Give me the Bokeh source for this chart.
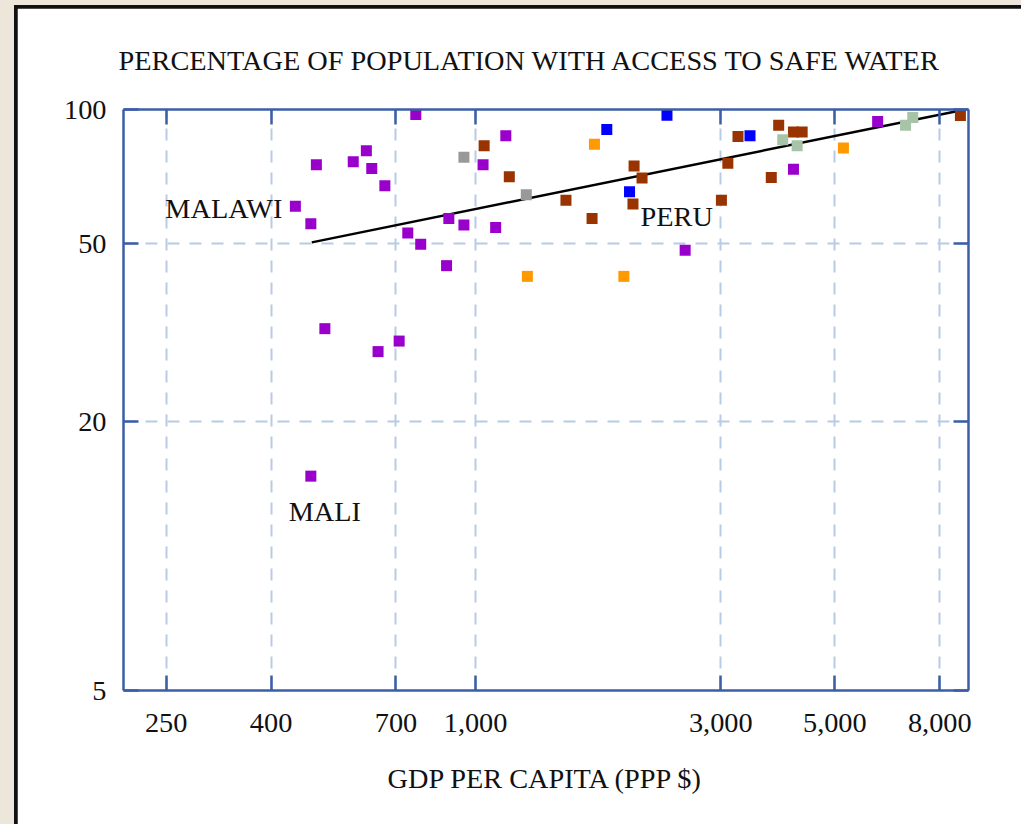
from bokeh.plotting import figure
from bokeh.models import (Range1d, FixedTicker, NumeralTickFormatter, LogAxis, Label,
                          CustomJSTickFormatter, GlobalInlineStyleSheet)
from bokeh.layouts import column
from bokeh.embed import file_html
from bokeh.resources import INLINE

# ---------------- data ----------------
title_text = "PERCENTAGE OF POPULATION WITH ACCESS TO SAFE WATER"
x_label = "GDP PER CAPITA (PPP $)"
x_ticks = [250, 400, 700, 1000, 3000, 5000, 8000]
y_ticks = [5, 20, 50, 100]

purple_gdp = [765, 490, 578, 613, 628, 666, 446, 478, 738, 782, 887, 949, 1094, 1034,
              1145, 2557, 4154, 6057, 878, 509, 710, 646, 478]
purple_water = [97.4, 75.2, 76.4, 80.8, 73.8, 67.5, 60.7, 55.5, 52.9, 49.9, 57.0, 55.1, 54.4, 75.2,
                87.3, 48.4, 73.5, 94.0, 44.7, 32.3, 30.3, 28.7, 15.1]

brown_gdp = [1039, 1163, 1499, 1685, 2034, 2108, 2024, 3008, 3096, 3240, 3888, 4154, 4319, 3761, 8776]
brown_water = [83.0, 70.7, 62.6, 57.0, 74.7, 70.2, 61.4, 62.6, 75.8, 87.0, 92.2, 89.0, 89.0, 70.4, 97.0]

blue_gdp = [1800, 2357, 1993, 3419]
blue_water = [90.2, 97.1, 65.4, 87.3]

orange_gdp = [1703, 1261, 1943, 5196]
orange_water = [83.6, 42.3, 42.3, 82.0]

gray_gdp = [949, 1255]
gray_water = [78.2, 64.4]

sage_gdp = [3959, 4223, 6864, 7089]
sage_water = [85.6, 83.0, 92.2, 95.9]

trend_gdp = [480, 8970]
trend_water = [50.4, 100]

label_names = ["MALAWI", "PERU", "MALI"]
label_gdp = [421, 2094, 509]
label_water = [60.1, 57.5, 12.6]
label_align = ["right", "left", "center"]

# ---------------- styling ----------------
FONT = "Liberation Serif"
FSIZE = "28.3px"
TEXT = "#111111"
AXIS = "#3C5EA6"
GRID = "#B7CCE4"
groups = [
    (purple_gdp, purple_water, "#9900CC"),
    (brown_gdp, brown_water, "#993300"),
    (blue_gdp, blue_water, "#0000FF"),
    (orange_gdp, orange_water, "#FF9900"),
    (gray_gdp, gray_water, "#999999"),
    (sage_gdp, sage_water, "#A8C4A8"),
]

p = figure(x_axis_type="log", y_axis_type="log",
           x_range=Range1d(206.5, 9100), y_range=Range1d(5, 100),
           frame_width=845, frame_height=581,
           min_border_left=106, min_border_top=100, min_border_right=53, min_border_bottom=135,
           output_backend="svg", toolbar_location=None,
           background_fill_color="white", border_fill_color="white")
p.outline_line_color = None

p.title.text = title_text
p.title.text_font = FONT
p.title.text_font_size = FSIZE
p.title.text_font_style = "normal"
p.title.text_color = TEXT
p.title.align = "left"
p.title.offset = -5
p.title.standoff = 68


def style_axis(ax, ticks, show_labels):
    ax.ticker = FixedTicker(ticks=ticks, minor_ticks=[])
    ax.axis_line_color = AXIS
    ax.axis_line_width = 2.5
    ax.major_tick_line_color = AXIS
    ax.major_tick_line_width = 2.5
    ax.major_tick_in = 15
    ax.major_tick_out = 0
    ax.minor_tick_line_color = None
    if show_labels:
        ax.formatter = NumeralTickFormatter(format="0,0")
        ax.major_label_text_font = FONT
        ax.major_label_text_font_size = FSIZE
        ax.major_label_text_color = TEXT
    else:
        ax.formatter = CustomJSTickFormatter(code="return ''")
        ax.major_label_text_font_size = "0px"
        ax.major_label_standoff = 0


xa = p.xaxis[0]
style_axis(xa, x_ticks, True)
xa.major_label_standoff = 23
xa.axis_label = x_label
xa.axis_label_text_font = FONT
xa.axis_label_text_font_size = FSIZE
xa.axis_label_text_font_style = "normal"
xa.axis_label_text_color = TEXT
xa.axis_label_standoff = 28

ya = p.yaxis[0]
style_axis(ya, y_ticks, True)
ya.major_label_standoff = 17

top = LogAxis()
style_axis(top, x_ticks, False)
p.add_layout(top, "above")
right = LogAxis()
style_axis(right, y_ticks, False)
p.add_layout(right, "right")

for g in (p.xgrid[0], p.ygrid[0]):
    g.grid_line_color = GRID
    g.grid_line_width = 2
    g.grid_line_dash = "12 10"
p.xgrid[0].ticker = FixedTicker(ticks=x_ticks)
p.ygrid[0].ticker = FixedTicker(ticks=y_ticks)

p.line(trend_gdp, trend_water, line_color="black", line_width=2.5)

for gx, gy, col in groups:
    p.scatter(gx, gy, marker="square", size=11, fill_color=col, line_color=None)

for name, gx, gy, al in zip(label_names, label_gdp, label_water, label_align):
    p.add_layout(Label(x=gx, y=gy, text=name, text_align=al, text_baseline="middle",
                       text_font=FONT, text_font_size=FSIZE, text_color=TEXT))

page_css = GlobalInlineStyleSheet(css="html, body { margin: 0; padding: 0; background: #ECE7DA; overflow: hidden; }")
p.margin = (3, 0, 0, 3)
outer = column(p, styles={"background-color": "#111111"}, margin=(5, 0, 0, 14),
               stylesheets=[page_css])

open("out.html", "w").write(file_html(outer, INLINE))
